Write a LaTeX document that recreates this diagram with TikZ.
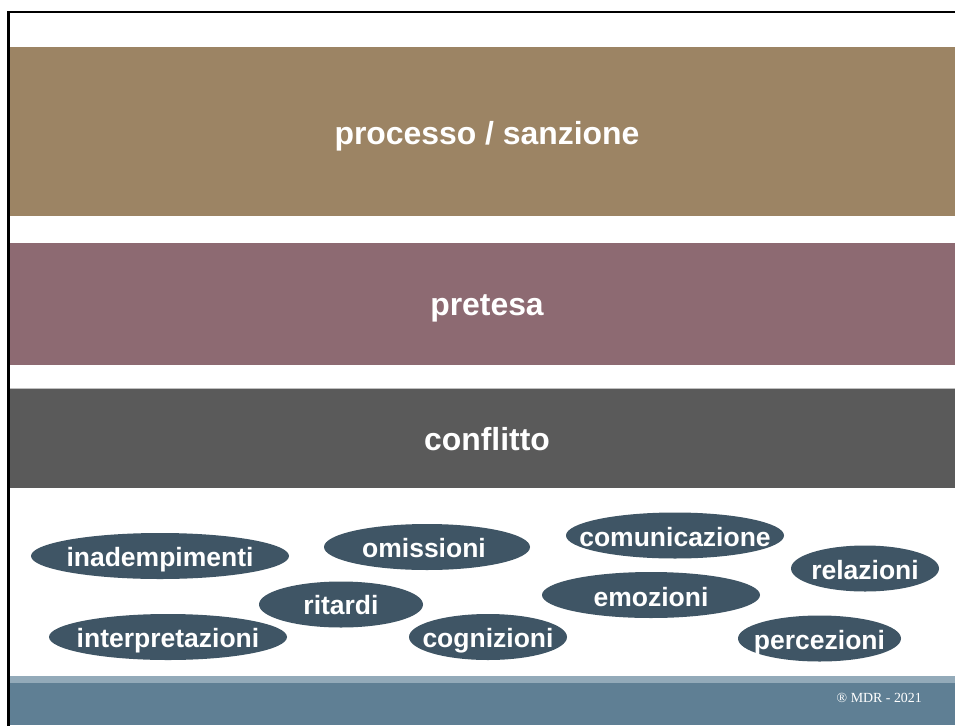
\documentclass[tikz,border=0pt]{standalone}
\usepackage{fontspec}
\setmainfont{Liberation Sans}
\newfontfamily\footfont{Liberation Serif}
\usetikzlibrary{shapes.geometric}
\definecolor{bandbrown}{HTML}{9C8464}
\definecolor{bandpink}{HTML}{8D6A72}
\definecolor{bandgray}{HTML}{5A5A5A}
\definecolor{pillcol}{HTML}{3F5565}
\definecolor{striplight}{HTML}{93AAB9}
\definecolor{footblue}{HTML}{5F7F94}
\tikzset{
  band/.style={fill=#1, draw=none},
  bandtitle/.style={text=white, font=\bfseries\fontsize{31.9}{36}\selectfont, inner sep=0pt, text depth=0pt},
  pill/.style={ellipse, fill=pillcol, draw=none, inner sep=0pt, minimum height=46pt},
  pilltext/.style={text=white, font=\bfseries\fontsize{26.5}{30}\selectfont, inner sep=0pt, text depth=0pt},
}
\begin{document}
\begin{tikzpicture}[x=1pt,y=-1pt]
\useasboundingbox (0,0) rectangle (955,725);
\fill[white] (0,0) rectangle (955,725);
% bands
\fill[band=bandbrown] (9,47) rectangle (955,216);
\fill[band=bandpink] (9,243) rectangle (955,365);
\fill[band=bandgray] (9,388) rectangle (955,488);
\draw[white!75!black, line width=0.8pt] (9,388.4) -- (955,388.4);
\fill[band=striplight] (9,676) rectangle (955,683);
\fill[band=footblue] (9,683) rectangle (955,725);
% frame
\draw[black, line width=2.6pt] (8.3,726) -- (8.3,12) -- (956,12);
% titles
\node[bandtitle] (t1) at (487,133) {processo / sanzione};
\node[bandtitle] (t2) at (487,305) {pretesa};
\node[bandtitle] (t3) at (487,439) {conflitto};
% pills
\node[pill, minimum width=258pt] (p1) at (160,556) {};
\node[pilltext] at (160,556.5) {inadempimenti};
\node[pill, minimum width=206pt] (p2) at (427,547) {};
\node[pilltext] at (424,547.5) {omissioni};
\node[pill, minimum width=164pt] (p3) at (341,604.5) {};
\node[pilltext] at (341,605) {ritardi};
\node[pill, minimum width=238pt] (p4) at (168,637) {};
\node[pilltext] at (168,637.5) {interpretazioni};
\node[pill, minimum width=158pt] (p5) at (488,637) {};
\node[pilltext] at (488,637.5) {cognizioni};
\node[pill, minimum width=218pt] (p6) at (675,535.5) {};
\node[pilltext] at (675,536.5) {comunicazione};
\node[pill, minimum width=218pt] (p7) at (651,595) {};
\node[pilltext] at (651,596.5) {emozioni};
\node[pill, minimum width=148pt] (p8) at (865,568.5) {};
\node[pilltext] at (865,569.5) {relazioni};
\node[pill, minimum width=163pt] (p9) at (819.5,638.5) {};
\node[pilltext] at (819.5,640) {percezioni};
% footer
\node[text=white, font=\footfont\fontsize{13.9}{16}\selectfont, inner sep=0pt, anchor=east] (foot) at (922,697.5) {® MDR - 2021};
\end{tikzpicture}
\end{document}
